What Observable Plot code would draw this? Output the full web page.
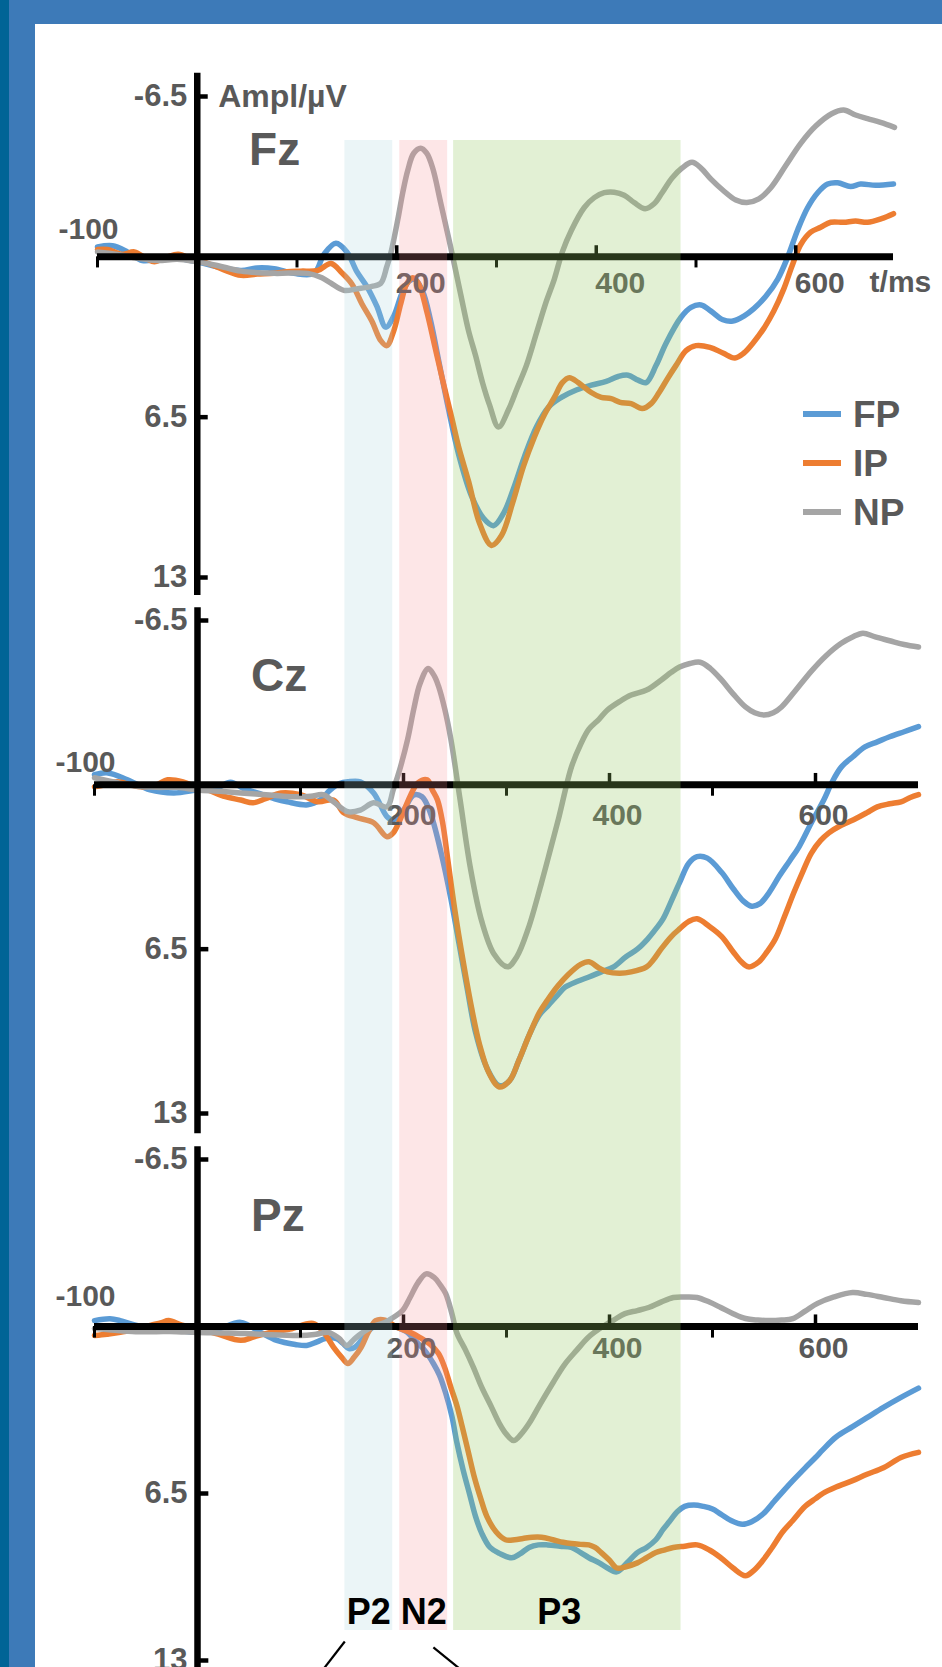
<!DOCTYPE html>
<html>
<head>
<meta charset="utf-8">
<script src="https://cdn.jsdelivr.net/npm/d3@7"></script>
<script src="https://cdn.jsdelivr.net/npm/@observablehq/plot@0.6"></script>
<style>
html, body { margin: 0; padding: 0; background: #fff; }
#page { position: relative; width: 942px; height: 1667px; overflow: hidden; background: #fff; font-family: "Liberation Sans", Arial, sans-serif; }
#page svg { position: absolute; left: 0; top: 0; overflow: visible; }
.frame { position: absolute; }
#legend { position: absolute; left: 803px; top: 389.5px; }
#legend .row { display: flex; align-items: center; height: 49px; }
#legend .sw { width: 38px; height: 6px; margin-right: 12px; }
#legend .lb { font: bold 37px "Liberation Sans", Arial, sans-serif; color: #595959; line-height: 49px; }
</style>
</head>
<body>
<div id="page">
  <div class="frame" style="left:0;top:0;width:942px;height:24px;background:#3d7ab8"></div>
  <div class="frame" style="left:0;top:0;width:35px;height:1667px;background:#3d7ab8"></div>
  <div class="frame" style="left:0;top:0;width:9px;height:1667px;background:#006496"></div>
</div>
<script>
// ---------- data ----------
const seriesNames = ["FP", "IP", "NP"];
const seriesColors = ["#5b9bd5", "#ed7d31", "#a5a5a5"];
const panelNames = ["Fz", "Cz", "Pz"];
const yTicks = [-6.5, 6.5, 13];
const xMajorTicks = [200, 400, 600];
const xMinorTicks = [-100, 100, 300, 500];
const bandNames = ["P2", "N2", "P3"];
const bandStart = [148, 203, 257];
const bandEnd = [196, 251, 485];

// [time ms, amplitude µV]
const fzFP = [[-100,-0.4],[-85,-0.45],[-70,-0.2],[-55,0.15],[-40,0.1],[-25,0.05],[0,0.2],[20,0.4],[44,0.55],[60,0.45],[77,0.48],[97,0.67],[117,0.67],[127,-0.1],[139,-0.55],[150,-0.2],[160,0.6],[170,1.2],[180,2.0],[189,2.85],[197,2.4],[205,1.5],[212,1.0],[218,0.9],[226,1.4],[234,2.6],[242,4.2],[252,6.2],[262,8.0],[275,9.7],[287,10.6],[297,10.9],[307,10.4],[317,9.4],[328,8.1],[340,6.9],[352,6.1],[365,5.7],[380,5.4],[395,5.2],[410,5.05],[422,4.85],[432,4.8],[442,5.0],[450,5.1],[460,4.4],[470,3.5],[485,2.45],[495,2.05],[505,1.95],[515,2.2],[527,2.55],[537,2.6],[548,2.4],[558,2.1],[570,1.6],[582,0.9],[592,0],[602,-1.1],[612,-2.0],[622,-2.6],[632,-2.95],[642,-3.0],[655,-2.85],[665,-2.95],[680,-2.9],[698,-2.95]];
const fzIP = [[-100,-0.3],[-90,-0.3],[-75,-0.1],[-63,-0.2],[-50,0.1],[-43,0.2],[-30,0.0],[-19,-0.1],[-5,0.1],[11,0.27],[25,0.5],[44,0.75],[60,0.7],[77,0.67],[90,0.6],[104,0.58],[121,0.55],[134,0.27],[145,0.65],[155,1.1],[165,1.9],[175,2.6],[184,3.4],[190,3.6],[197,3.0],[204,1.9],[210,1.1],[216,0.85],[222,1.1],[230,2.2],[238,3.6],[246,5.0],[255,6.5],[262,7.7],[272,9.1],[283,10.8],[295,11.7],[305,11.3],[316,10.0],[327,8.5],[338,7.3],[348,6.4],[358,5.7],[366,5.1],[373,4.9],[382,5.1],[395,5.5],[405,5.7],[415,5.75],[424,5.9],[435,5.95],[446,6.15],[455,5.95],[463,5.5],[472,4.9],[480,4.4],[490,3.8],[500,3.6],[514,3.67],[527,3.9],[539,4.1],[548,3.9],[557,3.5],[568,2.9],[578,2.2],[588,1.3],[596,0.4],[605,-0.5],[615,-1.0],[625,-1.2],[635,-1.4],[648,-1.4],[660,-1.45],[672,-1.4],[686,-1.55],[698,-1.75]];
const fzNP = [[-100,-0.2],[-80,-0.1],[-60,0.05],[-40,0.15],[-20,0.1],[0,0.2],[20,0.35],[44,0.58],[77,0.67],[111,0.67],[125,0.85],[134,1.07],[147,1.36],[160,1.3],[175,1.2],[184,1.07],[190,0.4],[194,-0.14],[201,-1.5],[206,-2.6],[211,-3.5],[217,-4.2],[224,-4.4],[230,-4.2],[236,-3.6],[244,-2.2],[254,-0.4],[264,1.5],[272,3.0],[279,4.0],[286,5.1],[293,6.0],[302,6.9],[312,6.2],[321,5.3],[330,4.4],[340,3.1],[350,1.8],[358,0.9],[366,-0.2],[375,-1.07],[388,-2.0],[398,-2.4],[408,-2.6],[418,-2.62],[428,-2.5],[438,-2.2],[449,-1.95],[458,-2.15],[466,-2.6],[476,-3.2],[486,-3.6],[496,-3.83],[505,-3.6],[515,-3.15],[527,-2.7],[540,-2.3],[551,-2.2],[563,-2.35],[575,-2.8],[590,-3.7],[605,-4.6],[620,-5.3],[636,-5.8],[648,-5.95],[660,-5.75],[672,-5.6],[685,-5.45],[699,-5.25]];

const czFP = [[-100,-0.4],[-87,-0.47],[-68,-0.2],[-46,0.2],[-23,0.32],[0,0.2],[20,0.1],[32,-0.1],[45,0.15],[58,0.32],[75,0.55],[87,0.67],[107,0.79],[119,0.6],[129,0.2],[138,-0.05],[146,-0.12],[158,-0.12],[171,0.32],[184,1.26],[190,1.38],[200,1.0],[210,0.4],[218,0.47],[226,1.1],[236,2.6],[246,4.5],[254,6.3],[262,8.1],[270,9.8],[281,11.2],[293,11.9],[303,11.7],[312,10.9],[322,9.9],[332,9.1],[340,8.75],[350,8.3],[357,8.0],[369,7.77],[380,7.6],[392,7.4],[404,7.2],[416,6.8],[427,6.5],[437,6.1],[445,5.7],[452,5.3],[460,4.6],[468,3.87],[477,3.1],[485,2.84],[495,2.9],[509,3.47],[520,4.1],[530,4.6],[538,4.8],[546,4.7],[555,4.26],[565,3.6],[575,3.0],[584,2.45],[596,1.5],[608,0.6],[616,-0.1],[625,-0.7],[636,-1.1],[648,-1.5],[660,-1.7],[672,-1.9],[686,-2.1],[700,-2.3]];
const czIP = [[-100,0.08],[-90,0.0],[-78,-0.12],[-65,0.0],[-55,0.08],[-40,0.0],[-29,-0.2],[-14,-0.12],[0,0.1],[10,0.2],[25,0.45],[42,0.6],[54,0.71],[66,0.55],[81,0.32],[100,0.39],[117,0.67],[132,0.6],[142,1.1],[155,1.3],[171,1.5],[184,2.05],[190,1.9],[200,1.06],[207,0.4],[214,-0.08],[223,-0.2],[228,0.2],[233,0.6],[238,1.5],[243,2.96],[250,5.0],[258,7.0],[266,8.8],[274,10.3],[283,11.4],[293,11.95],[303,11.7],[312,10.9],[322,9.9],[332,9.0],[340,8.5],[350,7.95],[360,7.5],[372,7.1],[380,7.0],[390,7.25],[398,7.4],[410,7.45],[421,7.4],[436,7.2],[443,6.9],[450,6.5],[460,6.0],[468,5.7],[477,5.4],[485,5.3],[497,5.6],[509,6.0],[520,6.6],[528,7.0],[535,7.2],[545,7.0],[553,6.6],[561,6.1],[570,5.2],[579,4.26],[588,3.4],[596,2.7],[605,2.2],[613,1.9],[625,1.6],[637,1.38],[650,1.1],[660,0.87],[672,0.75],[683,0.67],[692,0.5],[700,0.39]];
const czNP = [[-100,-0.28],[-80,-0.1],[-60,0.05],[-40,0.1],[-20,0.1],[0,0.2],[20,0.25],[42,0.32],[70,0.4],[93,0.47],[110,0.45],[122,0.39],[132,0.67],[146,1.06],[158,1.0],[171,0.71],[184,0.87],[190,0.2],[197,-0.7],[204,-1.8],[210,-3.0],[216,-4.0],[224,-4.6],[230,-4.3],[234,-3.9],[240,-3.0],[246,-1.8],[255,0.6],[265,3.3],[276,5.4],[288,6.7],[301,7.2],[310,6.8],[321,5.7],[334,3.87],[343,2.5],[351,1.26],[363,-0.7],[372,-1.6],[380,-2.2],[390,-2.6],[398,-2.96],[410,-3.3],[421,-3.55],[436,-3.75],[450,-4.14],[460,-4.45],[468,-4.66],[478,-4.8],[488,-4.85],[498,-4.6],[509,-4.14],[520,-3.6],[532,-3.08],[541,-2.85],[550,-2.76],[559,-2.85],[567,-3.08],[580,-3.7],[596,-4.5],[610,-5.1],[625,-5.6],[636,-5.85],[646,-6.0],[658,-5.85],[672,-5.7],[686,-5.55],[700,-5.45]];

const pzFP = [[-100,-0.23],[-85,-0.3],[-75,-0.23],[-60,-0.05],[-40,0.04],[-20,0.15],[0,0.23],[20,0.1],[42,-0.16],[60,0.2],[77,0.54],[95,0.7],[106,0.74],[116,0.6],[124,0.47],[135,0.47],[141,0.65],[147,0.86],[153,0.8],[159,0.54],[168,0.1],[176,-0.16],[185,-0.1],[194,0.04],[203,0.2],[211,0.54],[220,0.9],[229,1.44],[235,1.9],[241,2.6],[247,3.5],[252,4.55],[258,5.6],[264,6.5],[270,7.4],[276,8.05],[284,8.6],[293,8.83],[305,9.0],[313,8.85],[322,8.6],[331,8.5],[340,8.5],[352,8.55],[363,8.6],[372,8.8],[380,9.0],[390,9.2],[398,9.4],[407,9.55],[417,9.2],[427,8.8],[436,8.6],[445,8.3],[452,7.9],[458,7.6],[466,7.2],[473,7.0],[482,6.95],[491,7.0],[500,7.1],[508,7.3],[518,7.55],[529,7.7],[538,7.6],[549,7.3],[560,6.8],[570,6.35],[578,6.0],[590,5.5],[600,5.1],[607,4.8],[620,4.3],[636,3.9],[650,3.55],[666,3.15],[683,2.76],[700,2.4]];
const pzIP = [[-100,0.35],[-88,0.3],[-75,0.23],[-60,0.1],[-45,-0.05],[-35,-0.15],[-28,-0.23],[-15,-0.05],[0,0.08],[20,0.3],[42,0.54],[55,0.4],[71,0.23],[90,0.1],[112,-0.12],[122,0.2],[132,0.8],[140,1.2],[146,1.44],[152,1.2],[159,0.8],[166,0.2],[173,-0.23],[182,-0.25],[194,0.04],[205,0.2],[216,0.43],[226,0.7],[234,1.05],[240,1.6],[246,2.37],[252,3.1],[257,3.9],[263,4.9],[269,5.9],[275,6.7],[281,7.4],[290,8.0],[299,8.3],[308,8.3],[316,8.25],[325,8.2],[334,8.2],[345,8.3],[355,8.4],[363,8.45],[372,8.48],[380,8.5],[386,8.6],[392,8.8],[400,9.1],[407,9.4],[416,9.35],[427,9.2],[436,9.0],[445,8.8],[453,8.7],[462,8.6],[473,8.55],[485,8.5],[497,8.7],[508,9.0],[520,9.4],[532,9.7],[540,9.5],[549,9.1],[558,8.6],[568,8.0],[578,7.55],[590,7.0],[600,6.7],[607,6.5],[620,6.25],[636,6.0],[650,5.75],[666,5.5],[683,5.1],[700,4.9]];
const pzNP = [[-100,0.08],[-80,0.15],[-60,0.2],[-40,0.2],[-20,0.2],[0,0.23],[30,0.25],[60,0.3],[100,0.35],[115,0.3],[127,0.23],[137,0.45],[145,0.74],[152,0.5],[159,0.27],[170,0.0],[182,-0.16],[190,-0.35],[199,-0.62],[206,-1.1],[214,-1.7],[222,-2.05],[230,-1.9],[236,-1.6],[241,-1.28],[247,-0.5],[252,0.27],[260,0.9],[268,1.6],[276,2.37],[285,3.1],[293,3.77],[300,4.2],[307,4.44],[314,4.2],[322,3.77],[333,3.0],[345,2.2],[356,1.5],[368,0.93],[380,0.4],[392,0.04],[404,-0.25],[415,-0.5],[427,-0.62],[438,-0.74],[450,-0.95],[462,-1.13],[473,-1.15],[485,-1.13],[497,-0.95],[508,-0.74],[520,-0.5],[532,-0.31],[544,-0.25],[555,-0.23],[567,-0.25],[578,-0.31],[590,-0.6],[602,-0.9],[618,-1.15],[636,-1.32],[650,-1.25],[666,-1.13],[683,-1.0],[700,-0.93]];

// callout lines below the component labels: [t1, v1, t2, v2] in Pz units
const callouts = [[143, 12.26, 121, 13.4], [229, 12.49, 257, 13.4]];

// ---------- build table ----------
const seriesData = {
  Fz: [fzFP, fzIP, fzNP],
  Cz: [czFP, czIP, czNP],
  Pz: [pzFP, pzIP, pzNP]
};
const table = [];
for (const p of panelNames) {
  seriesData[p].forEach((arr, i) => {
    for (const [t, v] of arr) table.push({panel: p, series: seriesNames[i], t, v});
  });
}

// ---------- layout ----------
const layout = {
  Fz: {x: [97, 895], y: [96, 577], axisEnd: 698, yTop: -7.44, yBottom: 13.73, xLabelDy: 36, xLabelAnchor: "start", xLabelDx: -1, minusDy: -18},
  Cz: {x: [94, 918], y: [620, 1113], axisEnd: 700, yTop: -7.0, yBottom: 13.8, xLabelDy: 40, xLabelAnchor: "middle", xLabelDx: 8, minusDy: -13},
  Pz: {x: [94, 918], y: [1159, 1660], axisEnd: 700, yTop: -7.0, yBottom: 14.5, xLabelDy: 31, xLabelAnchor: "middle", xLabelDx: 8, minusDy: -21}
};
const FONT = "'Liberation Sans', Arial, sans-serif";
const GRAY = "#595959";
const txt = {fontFamily: FONT, fontWeight: "bold", fill: GRAY};

function panelPlot(name, extra = []) {
  const cfg = layout[name];
  const rows = table.filter(d => d.panel === name);
  return Plot.plot({
    width: 942, height: 1667, margin: 0,
    style: {background: "transparent", overflow: "visible"},
    x: {domain: [-100, 700], range: cfg.x, axis: null},
    y: {domain: [-6.5, 13], range: cfg.y, axis: null},
    color: {domain: seriesNames, range: seriesColors},
    marks: [
      Plot.line(rows, {x: "t", y: "v", z: "series", stroke: "series", strokeWidth: 5.5, curve: "catmull-rom"}),
      Plot.ruleY([0], {x1: -100, x2: cfg.axisEnd, stroke: "black", strokeWidth: 7}),
      Plot.ruleX([0], {y1: cfg.yTop, y2: cfg.yBottom, stroke: "black", strokeWidth: 6.5}),
      Plot.ruleX(xMajorTicks, {y1: 0, y2: -0.45, stroke: "black", strokeWidth: 3.5}),
      Plot.ruleX(xMinorTicks, {y1: 0, y2: 0.45, stroke: "black", strokeWidth: 3}),
      Plot.ruleY(yTicks, {x1: 0, x2: 11, stroke: "black", strokeWidth: 4.5}),
      Plot.text(yTicks, {x: 0, y: d => d, text: d => String(d), textAnchor: "end", dx: -10, lineAnchor: "middle", fontSize: 31, ...txt}),
      Plot.text(xMajorTicks, {x: d => d, y: 0, text: d => String(d), dy: cfg.xLabelDy, dx: cfg.xLabelDx, lineAnchor: "bottom", textAnchor: cfg.xLabelAnchor, fontSize: 30, ...txt}),
      Plot.text([xMinorTicks[0]], {x: d => d, y: 0, text: d => String(d), textAnchor: "end", dx: 21, dy: cfg.minusDy, lineAnchor: "bottom", fontSize: 30, ...txt}),
      Plot.text([name], {x: 52, y: -3.72, text: d => d, textAnchor: "start", lineAnchor: "bottom", fontSize: 46, ...txt}),
      ...extra
    ]
  });
}

const page = document.getElementById("page");

page.appendChild(panelPlot("Fz", [
  Plot.text(["Ampl/µV"], {x: 21, y: -6.5, text: d => d, textAnchor: "start", lineAnchor: "middle", fontSize: 32, ...txt}),
  Plot.text(["t/ms"], {x: 674, y: 0, text: d => d, textAnchor: "start", lineAnchor: "bottom", dy: 35, fontSize: 30, ...txt})
]));
page.appendChild(panelPlot("Cz"));
page.appendChild(panelPlot("Pz", [
  Plot.link(callouts, {x1: d => d[0], y1: d => d[1], x2: d => d[2], y2: d => d[3], stroke: "black", strokeWidth: 2.2})
]));

// ---------- component bands overlay ----------
const bandFill = ["#aad5dd", "#f58c91", "#94c760"];
const bandOpacity = [0.235, 0.22, 0.27];
const bandIdx = bandNames.map((d, i) => i);
page.appendChild(Plot.plot({
  width: 942, height: 1667, margin: 0,
  style: {background: "transparent", overflow: "visible"},
  x: {domain: [-100, 700], range: layout.Fz.x, axis: null},
  y: {domain: [0, 1], range: [140, 1630], axis: null},
  marks: [
    ...bandIdx.map(i => Plot.rect([i], {x1: bandStart[i], x2: bandEnd[i], y1: 0, y2: 1, fill: bandFill[i], fillOpacity: bandOpacity[i]})),
    Plot.text(bandIdx.slice(0, 2), {x: i => (bandStart[i] + bandEnd[i]) / 2, y: 1, text: i => bandNames[i], dy: -7, lineAnchor: "bottom", textAnchor: "middle", fontSize: 36, fontFamily: FONT, fontWeight: "bold", fill: "black"}),
    Plot.text(bandIdx.slice(2), {x: i => (bandStart[i] + bandEnd[i]) / 2, y: 1, text: i => bandNames[i], dy: -7, dx: -8, lineAnchor: "bottom", textAnchor: "middle", fontSize: 36, fontFamily: FONT, fontWeight: "bold", fill: "black"})
  ]
}));

// ---------- legend ----------
const legend = document.createElement("div");
legend.id = "legend";
seriesNames.forEach((s, i) => {
  const row = document.createElement("div");
  row.className = "row";
  const sw = document.createElement("div");
  sw.className = "sw";
  sw.style.background = seriesColors[i];
  const lb = document.createElement("span");
  lb.className = "lb";
  lb.textContent = s;
  row.appendChild(sw);
  row.appendChild(lb);
  legend.appendChild(row);
});
page.appendChild(legend);
</script>
</body>
</html>
